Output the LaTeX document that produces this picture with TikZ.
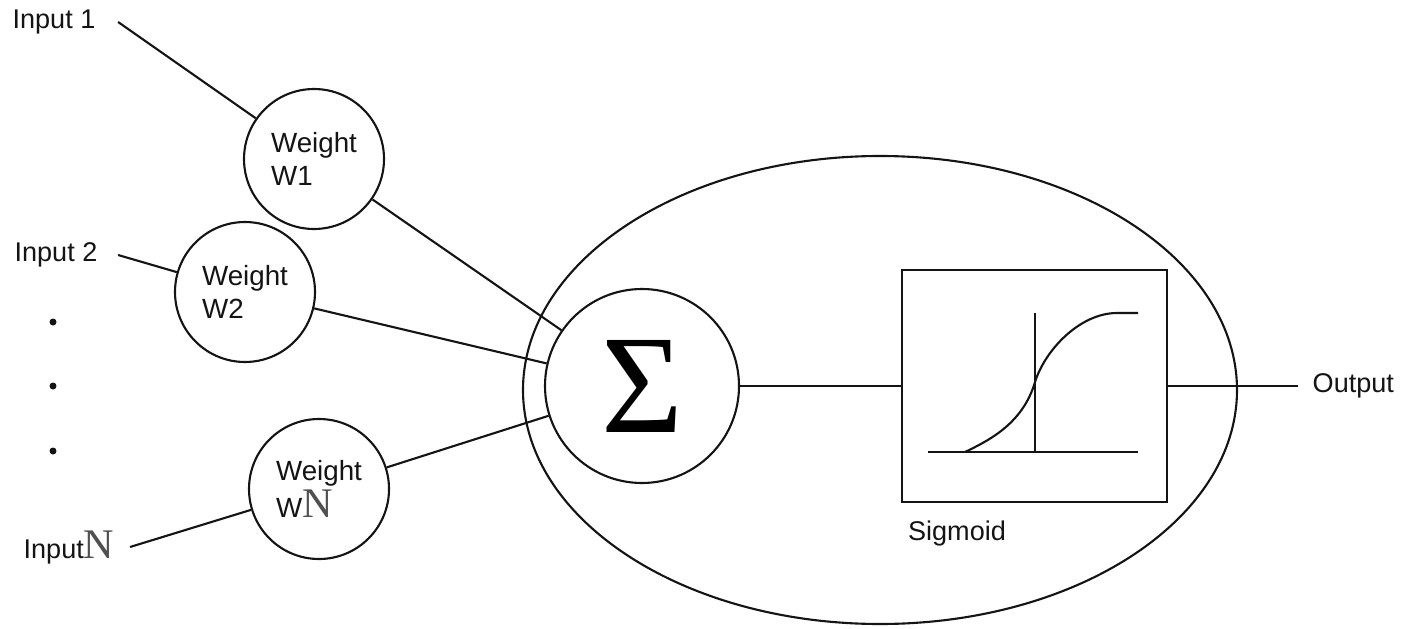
\documentclass[tikz,border=0pt]{standalone}
\usepackage{fontspec}
\setmainfont{Liberation Sans}
\newfontfamily\serifface{Liberation Serif}
\usepackage{tikz}
\usetikzlibrary{shapes.geometric}
\definecolor{inkblack}{RGB}{20, 20, 20}
\definecolor{bigngray}{RGB}{80, 80, 80}

\begin{document}
\begin{tikzpicture}[
  x=0.1mm, y=-0.1mm,
  wire/.style={line width=0.6pt, color=inkblack},
  inlabel/.style={font=\fontsize{7.7}{9.4}\selectfont, inner ysep=0pt, text=inkblack},
  weight/.style={circle, draw=inkblack, line width=0.6pt, minimum size=14mm, inner sep=0pt, align=left, font=\fontsize{7.9}{9.4}\selectfont, text=inkblack},
  sumcircle/.style={circle, draw=inkblack, line width=0.6pt, minimum size=19.4mm, inner sep=0pt, font=\serifface\fontsize{40}{40}\selectfont},
  cellbody/.style={ellipse, draw=inkblack, line width=0.6pt, minimum width=71.4mm, minimum height=46.8mm, inner sep=0pt},
  actbox/.style={rectangle, draw=inkblack, line width=0.6pt, minimum width=26.5mm, minimum height=23.2mm, inner sep=0pt}
]
\useasboundingbox (0,0) rectangle (1402,629);

% Neuron body
\node[cellbody] (cell) at (880,390) {};

% Inputs
\node[inlabel, inner xsep=2.2mm] (inone) at (54,22) {Input 1};
\node[inlabel, inner xsep=2mm] (intwo) at (56,255) {Input 2};
\node[inlabel, inner xsep=1.5mm] (inn) at (69,547) {Input{\serifface\fontsize{12}{12}\selectfont\color{bigngray}N}};

% Dots between inputs
\foreach \y in {322,386,451}
  \fill[inkblack] (53,\y) circle (0.35mm);

% Weights
\node[weight] (wone) at (314,159) {Weight\\W1};
\node[weight] (wtwo) at (245,292) {Weight\\W2};
\node[weight] (wn) at (319,489) {Weight\\W{\serifface\fontsize{12}{9.4}\selectfont\color{bigngray}N}};

% Summation and activation
\node[sumcircle] (sum) at (642,386) {Σ\hspace{1.4mm}};
\node[actbox] (sig) at (1034.5,386) {};
\node[inlabel] (siglbl) at (957,533) {Sigmoid};
\node[inlabel, anchor=west, inner xsep=1.4mm] (out) at (1298,386) {Output};

% Sigmoid curve
\draw[wire] (928,452) -- (1138,452);
\draw[wire] (1035,313) -- (1035,452);
\draw[wire] (965,452) .. controls (990,440) and (1023,423) .. (1035,382)
  .. controls (1045,350) and (1080,313) .. (1117,313) -- (1138,313);

% Connections
\draw[wire] (inone.east) -- (wone);
\draw[wire] (intwo.east) -- (wtwo);
\draw[wire] (inn.east) -- (wn);
\draw[wire] (wone) -- (sum);
\draw[wire] (wtwo) -- (sum);
\draw[wire] (wn) -- (sum);
\draw[wire] (sum) -- (sig);
\draw[wire] (sig) -- (out.west);

\end{tikzpicture}
\end{document}
